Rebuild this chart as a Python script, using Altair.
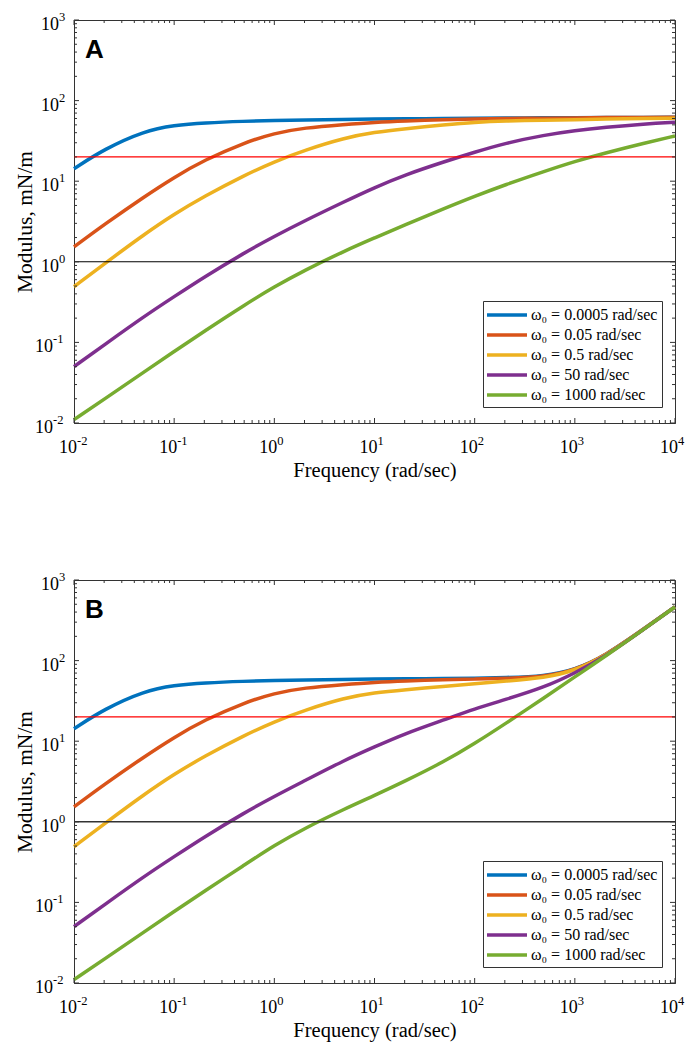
import altair as alt
import pandas as pd

# ---------------- data ----------------
freq = [0.01, 0.02, 0.05, 0.1, 0.2, 0.5, 1, 2, 5, 10, 20, 50, 100, 200, 500,
        1000, 2000, 5000, 10000]

labels = ["ω₀ = 0.0005 rad/sec", "ω₀ = 0.05 rad/sec", "ω₀ = 0.5 rad/sec",
          "ω₀ = 50 rad/sec", "ω₀ = 1000 rad/sec"]
colors = ["#0072BD", "#D95319", "#EDB120", "#7E2F8E", "#77AC30"]

# Panel A
a_w0005 = [14.3, 25, 42, 49.5, 53, 55.5, 56.5, 57.5, 58.5, 59, 59.5, 60, 60.5, 61, 61, 61.5, 61.5, 62, 62]
a_w005 = [1.53, 2.9, 6.4, 11.2, 18.3, 30, 39.5, 46, 50.5, 53.8, 56, 58, 59, 60, 60.5, 61, 61.5, 62, 62]
a_w05 = [0.49, 0.94, 2.18, 3.9, 6.5, 11.8, 17.5, 24.2, 34.5, 40.5, 44.8, 50, 53.8, 56, 57, 58, 59, 60, 60.3]
a_w50 = [0.05, 0.093, 0.21, 0.37, 0.65, 1.29, 2.07, 3.22, 5.58, 8.34, 11.95, 17.5, 22.9, 29.6, 37.4, 42.5, 46.7, 51.4, 53.8]
a_w1000 = [0.011, 0.0197, 0.043, 0.077, 0.138, 0.29, 0.49, 0.785, 1.36, 1.98, 2.86, 4.6, 6.5, 9.0, 13.3, 17.6, 22.4, 29.8, 36.4]

# Panel B
b_w0005 = [14.3, 25, 42, 49.5, 53, 55.5, 56.5, 57.5, 58.5, 59, 59.5, 60, 60.5, 61.5, 64, 77, 114, 252, 465]
b_w005 = [1.53, 2.9, 6.4, 11.2, 18.3, 30, 39.5, 46, 50.5, 53.8, 56, 58, 59, 60, 63, 76, 114, 252, 465]
b_w05 = [0.49, 0.94, 2.18, 3.9, 6.5, 11.8, 17.5, 24.2, 34.5, 40, 43.5, 48, 51.5, 55.5, 61, 75, 113, 251, 465]
b_w50 = [0.05, 0.093, 0.21, 0.37, 0.65, 1.29, 2.07, 3.22, 5.8, 8.5, 12.4, 18.5, 25.3, 32.7, 46.8, 70, 112, 250, 464]
b_w1000 = [0.011, 0.0197, 0.043, 0.077, 0.138, 0.29, 0.51, 0.83, 1.44, 2.12, 3.17, 5.6, 9.35, 16.3, 34.9, 62.9, 112, 250, 463]

ref_red = [20]
ref_black = [1]

# tick positions and tick-label text
x_major = [0.01, 0.1, 1, 10, 100, 1000, 10000]
x_exps = ["-2", "-1", "0", "1", "2", "3", "4"]
y_major = [0.01, 0.1, 1, 10, 100, 1000]
y_exps = ["-2", "-1", "0", "1", "2", "3"]
mult = [2, 3, 4, 5, 6, 7, 8, 9]
x_minor = [m * d for d in x_major[:-1] for m in mult]
y_minor = [m * d for d in y_major[:-1] for m in mult]

# ---------------- styling ----------------
W, H = 601, 403
AX = "#333333"
SERIF = "Liberation Serif"

xscale = alt.Scale(type="log", domain=[0.01, 10000], nice=False)
yscale = alt.Scale(type="log", domain=[0.01, 1000], nice=False)

x_axis = alt.Axis(labels=False, ticks=False, grid=False, domainColor=AX,
                  title="Frequency (rad/sec)", titleFont=SERIF,
                  titleFontSize=20.5, titleFontWeight="normal",
                  titleColor="black", titlePadding=37)
y_axis = alt.Axis(labels=False, ticks=False, grid=False, domainColor=AX,
                  title="Modulus, mN/m", titleFont=SERIF,
                  titleFontSize=21.5, titleFontWeight="normal",
                  titleColor="black", titlePadding=38)


def tick_layers():
    layers = []
    for vals, ln in [(x_major, 5), (x_minor, 3)]:
        d = pd.DataFrame({"v": vals})
        base = alt.Chart(d).mark_rule(color=AX, strokeWidth=1)
        xx = alt.X("v:Q", scale=xscale, axis=x_axis)
        layers.append(base.encode(x=xx, y=alt.value(H), y2=alt.value(H - ln)))
        layers.append(base.encode(x=xx, y=alt.value(0), y2=alt.value(ln)))
    for vals, ln in [(y_major, 5), (y_minor, 3)]:
        d = pd.DataFrame({"v": vals})
        base = alt.Chart(d).mark_rule(color=AX, strokeWidth=1)
        yy = alt.Y("v:Q", scale=yscale, axis=y_axis)
        layers.append(base.encode(y=yy, x=alt.value(0), x2=alt.value(ln)))
        layers.append(base.encode(y=yy, x=alt.value(W), x2=alt.value(W - ln)))
    return layers


def label_layers():
    layers = []
    xd = pd.DataFrame({"v": x_major, "base": ["10"] * len(x_major), "e": x_exps})
    xx = alt.X("v:Q", scale=xscale, axis=x_axis)
    layers.append(alt.Chart(xd).mark_text(
        font=SERIF, fontSize=18, align="right", baseline="alphabetic",
        dx=3, color="black").encode(x=xx, y=alt.value(H + 30), text="base:N"))
    layers.append(alt.Chart(xd).mark_text(
        font=SERIF, fontSize=12.5, align="left", baseline="alphabetic",
        dx=3, color="black").encode(x=xx, y=alt.value(H + 22), text="e:N"))

    yd = pd.DataFrame({"v": y_major, "base": ["10"] * len(y_major), "e": y_exps})
    yy = alt.Y("v:Q", scale=yscale, axis=y_axis)
    for filt, anchor in [("datum.v < 0.5", -21), ("datum.v >= 0.5", -15)]:
        layers.append(alt.Chart(yd).transform_filter(filt).mark_text(
            font=SERIF, fontSize=18, align="right", baseline="alphabetic",
            dy=10, color="black").encode(
            y=yy, x=alt.value(anchor), text="base:N"))
        layers.append(alt.Chart(yd).transform_filter(filt).mark_text(
            font=SERIF, fontSize=12.5, align="left", baseline="alphabetic",
            dy=1, color="black").encode(
            y=yy, x=alt.value(anchor), text="e:N"))
    return layers


def panel(series, letter, black_color, black_width, legend_y):
    rows = []
    for lab, arr in zip(labels, series):
        for f, v in zip(freq, arr):
            rows.append({"f": f, "G": v, "series": lab})
    df = pd.DataFrame(rows)

    lines = alt.Chart(df).mark_line(strokeWidth=3.5, interpolate="basis").encode(
        x=alt.X("f:Q", scale=xscale, axis=x_axis),
        y=alt.Y("G:Q", scale=yscale, axis=y_axis),
        color=alt.Color("series:N", sort=labels,
                        scale=alt.Scale(domain=labels, range=colors),
                        legend=alt.Legend(title=None, orient="none",
                                          legendX=409, legendY=legend_y,
                                          symbolType="M-2.5,0L2.5,0",
                                          symbolSize=256, symbolStrokeWidth=3.5,
                                          symbolOffset=10,
                                          labelFont=SERIF, labelFontSize=16,
                                          labelColor="black", labelOffset=14,
                                          labelLimit=400,
                                          strokeColor=AX, fillColor="white",
                                          padding=4, rowPadding=2)),
    )

    red = alt.Chart(pd.DataFrame({"red_level": ref_red})).mark_rule(
        strokeWidth=1.3).encode(
        y=alt.Y("red_level:Q", scale=yscale, axis=y_axis),
        stroke=alt.value("#FF0000"))
    black = alt.Chart(pd.DataFrame({"black_level": ref_black})).mark_rule(
        strokeWidth=black_width).encode(
        y=alt.Y("black_level:Q", scale=yscale, axis=y_axis),
        stroke=alt.value(black_color))

    tag = alt.Chart(pd.DataFrame({"t": [letter]})).mark_text(
        font="Liberation Sans", fontWeight="bold", fontSize=26,
        align="left", baseline="alphabetic", color="black").encode(
        x=alt.value(11), y=alt.value(38), text="t:N")

    return alt.layer(lines, red, black, tag, *tick_layers(),
                     *label_layers()).properties(width=W, height=H)


pa = panel([a_w0005, a_w005, a_w05, a_w50, a_w1000], "A", "#000000", 1.1, 281)
pb = panel([b_w0005, b_w005, b_w05, b_w50, b_w1000], "B", "#333333", 1.6, 281)

chart = alt.vconcat(pa, pb, spacing=89).resolve_scale(
    color="independent").resolve_legend(color="independent").properties(
    padding={"left": 5, "top": 2, "right": 5, "bottom": 5},
    background="white",
).configure_view(stroke=AX, strokeWidth=1)

chart.save("out.html", embed_options={"renderer": "svg", "actions": False})
